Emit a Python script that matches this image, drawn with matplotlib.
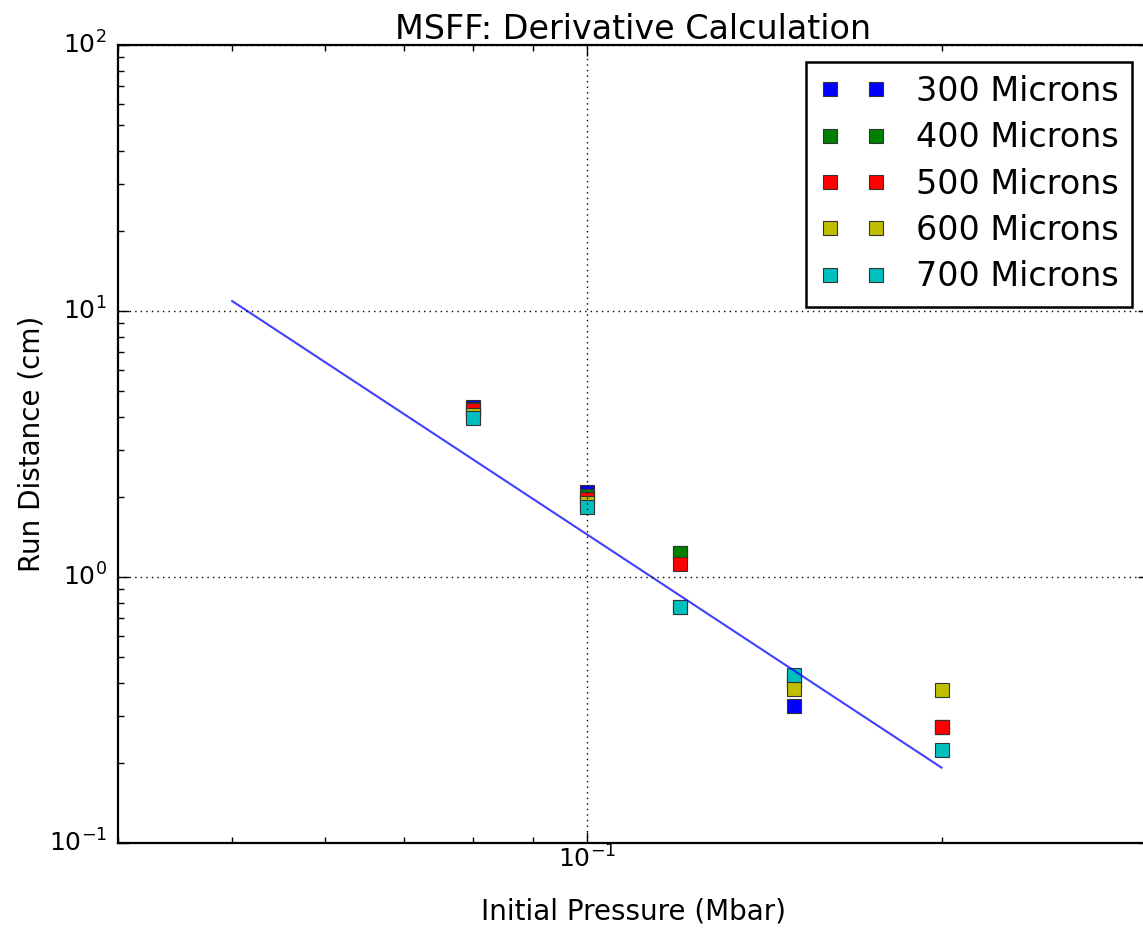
import matplotlib
matplotlib.use("Agg")
import matplotlib.pyplot as plt

plt.style.use("classic")
plt.rcParams["font.family"] = ["DejaVu Sans"]
plt.rcParams["mathtext.fontset"] = "dejavusans"
plt.rcParams["mathtext.default"] = "regular"

pressure = [0.08, 0.10, 0.12, 0.15, 0.20]
labels = ["300 Microns", "400 Microns", "500 Microns", "600 Microns", "700 Microns"]
colors = ["b", "g", "r", "y", "c"]
run_300 = [4.34, 2.08, 1.23, 0.326, 0.274]
run_400 = [4.27, 2.02, 1.23, 0.41, 0.274]
run_500 = [4.23, 1.96, 1.12, 0.40, 0.274]
run_600 = [4.07, 1.90, 0.772, 0.380, 0.377]
run_700 = [3.97, 1.83, 0.772, 0.428, 0.224]
series = [run_300, run_400, run_500, run_600, run_700]

fit_x = [0.05, 0.20]
fit_y = [10.9, 0.192]

fig = plt.figure(figsize=(11.43, 9.32), dpi=100)
fig.patch.set_facecolor("white")
ax = fig.add_axes([118/1143, 89/932, 1031/1143, 798/932])

for vals, c, lab in zip(series, colors, labels):
    ax.plot(pressure, vals, "s", color=c, markersize=9.5, mec="#333333",
            mew=0.8, label=lab, linestyle="none")
ax.plot(fit_x, fit_y, "-", color="b", lw=1.5, alpha=0.75)

ax.set_xscale("log")
ax.set_yscale("log")
ax.set_xlim(0.04, 0.3)
ax.set_ylim(0.1, 100)
ax.grid(True, which="major", color="k", linestyle=":", linewidth=1.0)

for s in ax.spines.values():
    s.set_linewidth(1.6)
ax.tick_params(which="major", length=8, width=1.0, labelsize=18, direction="in")
ax.tick_params(which="minor", length=4, width=1.0, direction="in")
ax.tick_params(axis="x", pad=2)
ax.tick_params(axis="y", pad=8)

ax.set_title("MSFF: Derivative Calculation", fontsize=24, pad=4)
ax.set_xlabel("Initial Pressure (Mbar)", fontsize=20, labelpad=18)
ax.set_ylabel("Run Distance (cm)", fontsize=20, labelpad=2)

leg = ax.legend(loc="upper right", numpoints=2, fontsize=24, frameon=True,
                fancybox=False, borderaxespad=0.5, handletextpad=0.9,
                labelspacing=0.4, borderpad=0.4)
leg.get_frame().set_linewidth(1.8)
leg.get_frame().set_edgecolor("k")

fig.savefig("out.png", dpi=100, facecolor="white")
